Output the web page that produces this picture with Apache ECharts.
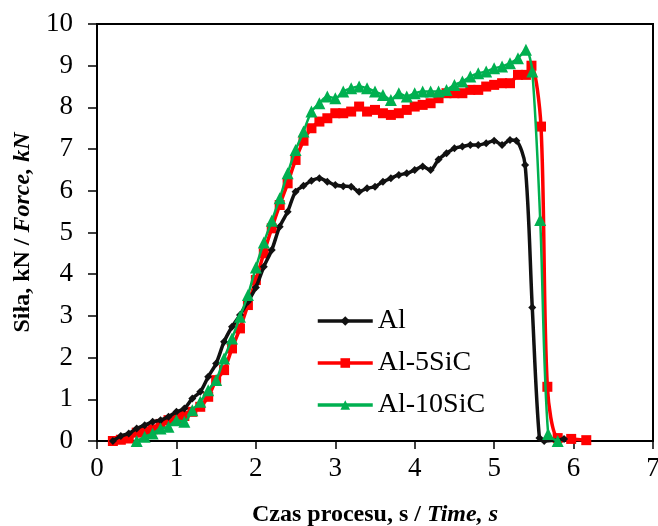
<!DOCTYPE html>
<html>
<head>
<meta charset="UTF-8">
<title>Siła</title>
<script src="https://cdn.jsdelivr.net/npm/echarts@6/dist/echarts.min.js"></script>
<style>
  html, body { margin: 0; padding: 0; background: #fff; }
  #main { width: 658px; height: 526px; }
</style>
</head>
<body>
<div id="main"></div>
<script type="text/javascript">
// dane
var seriesNames = ['Al', 'Al-5SiC', 'Al-10SiC'];
var xTicks = [0, 1, 2, 3, 4, 5, 6, 7];
var yTicks = [0, 1, 2, 3, 4, 5, 6, 7, 8, 9, 10];

var alTime = [0.2, 0.3, 0.4, 0.5, 0.6, 0.7, 0.8, 0.9, 1.0, 1.1, 1.2, 1.3, 1.4, 1.5, 1.6, 1.7, 1.8, 1.9, 2.0,
  2.1, 2.2, 2.3, 2.4, 2.5, 2.6, 2.7, 2.8, 2.9, 3.0, 3.1, 3.2, 3.3, 3.4, 3.5, 3.6, 3.7, 3.8, 3.9, 4.0,
  4.1, 4.2, 4.3, 4.4, 4.5, 4.6, 4.7, 4.8, 4.9, 5.0, 5.1, 5.2, 5.28, 5.39, 5.48, 5.57, 5.63, 5.88];
var alForce = [0, 0.12, 0.18, 0.3, 0.38, 0.46, 0.5, 0.58, 0.7, 0.78, 1.02, 1.18, 1.54, 1.86, 2.38, 2.74, 3.02, 3.34, 3.68,
  4.18, 4.58, 5.14, 5.5, 5.98, 6.12, 6.24, 6.3, 6.22, 6.14, 6.11, 6.1, 5.98, 6.06, 6.1, 6.22, 6.3, 6.38, 6.42, 6.5,
  6.58, 6.5, 6.75, 6.9, 7.02, 7.06, 7.1, 7.1, 7.14, 7.2, 7.1, 7.22, 7.2, 6.62, 3.2, 0.07, 0, 0.05];

var sic5Time = [0.2, 0.3, 0.4, 0.5, 0.6, 0.7, 0.8, 0.9, 1.0, 1.1, 1.2, 1.3, 1.4, 1.5, 1.6, 1.7, 1.8, 1.9, 2.0,
  2.1, 2.2, 2.3, 2.4, 2.5, 2.6, 2.7, 2.8, 2.9, 3.0, 3.1, 3.2, 3.3, 3.4, 3.5, 3.6, 3.7, 3.8, 3.9, 4.0,
  4.1, 4.2, 4.3, 4.4, 4.5, 4.6, 4.7, 4.8, 4.9, 5.0, 5.1, 5.2, 5.3, 5.4, 5.47, 5.59, 5.67, 5.8, 5.97, 6.16];
var sic5Force = [0, 0.03, 0.06, 0.2, 0.22, 0.28, 0.41, 0.5, 0.55, 0.6, 0.7, 0.82, 1.06, 1.46, 1.7, 2.22, 2.7, 3.26, 3.86,
  4.5, 5.1, 5.66, 6.18, 6.74, 7.2, 7.5, 7.66, 7.74, 7.86, 7.86, 7.9, 8.02, 7.9, 7.94, 7.86, 7.82, 7.86, 7.94, 8.02,
  8.06, 8.1, 8.22, 8.34, 8.34, 8.34, 8.42, 8.42, 8.5, 8.54, 8.58, 8.58, 8.78, 8.78, 9.0, 7.54, 1.3, 0.07, 0.05, 0.02];

var sic10Time = [0.5, 0.6, 0.7, 0.8, 0.9, 1.0, 1.1, 1.2, 1.3, 1.4, 1.5, 1.6, 1.7, 1.8, 1.9, 2.0,
  2.1, 2.2, 2.3, 2.4, 2.5, 2.6, 2.7, 2.8, 2.9, 3.0, 3.1, 3.2, 3.3, 3.4, 3.5, 3.6, 3.7, 3.8, 3.9, 4.0,
  4.1, 4.2, 4.3, 4.4, 4.5, 4.6, 4.7, 4.8, 4.9, 5.0, 5.1, 5.2, 5.3, 5.4, 5.48, 5.58, 5.68, 5.8];
var sic10Force = [0, 0.1, 0.18, 0.3, 0.34, 0.5, 0.46, 0.74, 0.94, 1.22, 1.46, 1.98, 2.46, 2.98, 3.5, 4.16,
  4.76, 5.28, 5.82, 6.42, 6.98, 7.42, 7.9, 8.1, 8.26, 8.22, 8.38, 8.46, 8.5, 8.46, 8.38, 8.3, 8.18, 8.34, 8.26, 8.34,
  8.38, 8.38, 8.38, 8.42, 8.54, 8.62, 8.74, 8.82, 8.86, 8.94, 8.98, 9.06, 9.18, 9.38, 8.86, 5.3, 0.17, 0];

function pairs(t, f) {
  return t.map(function (v, i) { return [v, f[i]]; });
}

var serif = "'Liberation Serif', 'Times New Roman', serif";
var titleRich = {
  a: { fontFamily: serif, fontSize: 24, fontWeight: 'bold', color: '#000' },
  b: { fontFamily: serif, fontSize: 24, fontWeight: 'bold', fontStyle: 'italic', color: '#000' }
};

var myChart = echarts.init(document.getElementById('main'));
var option = {
  animation: false,
  grid: {
    left: 97, right: 5, top: 24, bottom: 85,
    outerBoundsMode: 'none',
    show: true, borderColor: '#000', borderWidth: 2
  },
  legend: {
    orient: 'vertical',
    left: 316,
    top: 307,
    padding: 0,
    itemWidth: 55,
    itemHeight: 12,
    itemGap: 14,
    data: seriesNames,
    lineStyle: { width: 3.5 },
    textStyle: { fontFamily: serif, fontSize: 28, color: '#000' }
  },
  xAxis: {
    type: 'value',
    min: xTicks[0],
    max: xTicks[xTicks.length - 1],
    interval: 1,
    name: '{a|Czas procesu, s / }{b|Time, s}',
    nameLocation: 'middle',
    nameGap: 62,
    nameTextStyle: { rich: titleRich },
    axisLine: { lineStyle: { color: '#000', width: 2 } },
    axisTick: { show: true, inside: false, length: 8, lineStyle: { color: '#000', width: 1.5 } },
    axisLabel: { fontFamily: serif, fontSize: 27, color: '#000', margin: 14 },
    splitLine: { show: false }
  },
  yAxis: {
    type: 'value',
    min: yTicks[0],
    max: yTicks[yTicks.length - 1],
    interval: 1,
    name: '{a|Siła, kN / }{b|Force, kN}',
    nameLocation: 'middle',
    nameGap: 57,
    nameTextStyle: { rich: titleRich },
    axisLine: { show: true, lineStyle: { color: '#000', width: 2 } },
    axisTick: { show: true, inside: false, length: 9, lineStyle: { color: '#000', width: 1.5 } },
    axisLabel: { fontFamily: serif, fontSize: 27, color: '#000', margin: 24 },
    splitLine: { show: false }
  },
  series: [
    {
      name: seriesNames[0],
      type: 'line',
      data: pairs(alTime, alForce),
      smooth: 0.3,
      symbol: 'diamond',
      symbolSize: 8,
      z: 4,
      lineStyle: { color: '#111', width: 3.5 },
      itemStyle: { color: '#111' }
    },
    {
      name: seriesNames[1],
      type: 'line',
      data: pairs(sic5Time, sic5Force),
      smooth: 0.3,
      symbol: 'rect',
      symbolSize: 10,
      z: 3,
      lineStyle: { color: '#ff0000', width: 3.5 },
      itemStyle: { color: '#ff0000' }
    },
    {
      name: seriesNames[2],
      type: 'line',
      data: pairs(sic10Time, sic10Force),
      smooth: 0.3,
      symbol: 'triangle',
      symbolSize: 12,
      z: 5,
      lineStyle: { color: '#00b050', width: 2.5 },
      itemStyle: { color: '#00b050' }
    }
  ]
};
myChart.setOption(option);
</script>
</body>
</html>
